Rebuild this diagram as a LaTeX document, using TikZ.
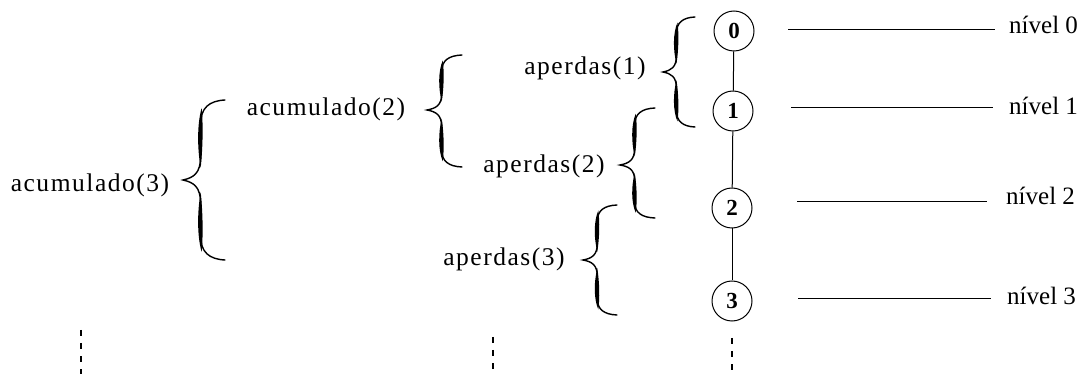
\documentclass[tikz,border=0pt]{standalone}
\usepackage{fontspec}
\setmainfont{Liberation Serif}
\newfontfamily\lblfont[LetterSpace=6]{Liberation Serif}
\tikzset{
  lvl/.style={circle,draw,line width=1pt,minimum size=40pt,inner sep=0pt,font=\fontsize{23}{26}\selectfont\bfseries},
  lbl/.style={inner sep=0pt,font=\lblfont\fontsize{25.5}{30}\selectfont},
  nivel/.style={inner sep=0pt,anchor=base west,font=\fontsize{25}{30}\selectfont},
  link/.style={line width=1pt},
  levelline/.style={line width=1pt},
  more/.style={line width=1.3pt,dash pattern=on 6pt off 7pt},
  bracethin/.style={line width=1.4pt,line cap=round}
}
\newcommand{\curlybrace}[5]{% tipx tipy endx topy boty
  \pgfmathsetmacro\bw{#3-#1}
  \pgfmathsetmacro\bs{#1+0.42*\bw}
  \pgfmathsetmacro\bht{#2-#4}
  \pgfmathsetmacro\bhb{#5-#2}
  \draw[bracethin] (#3,#4) .. controls (\bs+0.2*\bw,#4+0.01*\bht) and (\bs,#4+0.1*\bht) .. (\bs,#4+0.3*\bht)
    -- (\bs,#2-0.3*\bht) .. controls (\bs,#2-0.08*\bht) and (#1+0.25*\bw,#2-0.03*\bht) .. (#1,#2)
    .. controls (#1+0.25*\bw,#2+0.03*\bhb) and (\bs,#2+0.08*\bhb) .. (\bs,#2+0.3*\bhb)
    -- (\bs,#5-0.3*\bhb) .. controls (\bs,#5-0.1*\bhb) and (\bs+0.2*\bw,#5-0.01*\bhb) .. (#3,#5);
  \fill (\bs+1,#4+0.1*\bht) .. controls (\bs-3.6,#4+0.3*\bht) and (\bs-3.4,#2-0.4*\bht) .. (\bs,#2-0.15*\bht)
    .. controls (\bs+2.2,#2-0.4*\bht) and (\bs+2.6,#4+0.3*\bht) .. (\bs+1,#4+0.1*\bht) -- cycle;
  \fill (\bs,#2+0.15*\bhb) .. controls (\bs-3.4,#2+0.4*\bhb) and (\bs-3.6,#5-0.3*\bhb) .. (\bs+1,#5-0.1*\bhb)
    .. controls (\bs+2.6,#5-0.3*\bhb) and (\bs+2.2,#2+0.4*\bhb) .. (\bs,#2+0.15*\bhb) -- cycle;
}
\begin{document}
\begin{tikzpicture}[x=1pt,y=-1pt]
\useasboundingbox (0,0) rectangle (1088,374);
% level nodes
\node[lvl] (n0) at (734,31) {0};
\node[lvl] (n1) at (733,111) {1};
\node[lvl] (n2) at (732,208) {2};
\node[lvl] (n3) at (732,301) {3};
\draw[link] (n0) -- (n1);
\draw[link] (n1) -- (n2);
\draw[link] (n2) -- (n3);
% level lines and labels
\coordinate (a0) at (788,30);  \coordinate (b0) at (995,30);
\coordinate (a1) at (791,108); \coordinate (b1) at (993,108);
\coordinate (a2) at (797,202); \coordinate (b2) at (987,202);
\coordinate (a3) at (798,299); \coordinate (b3) at (991,299);
\draw[levelline] (a0) -- (b0);
\draw[levelline] (a1) -- (b1);
\draw[levelline] (a2) -- (b2);
\draw[levelline] (a3) -- (b3);
\node[nivel] (t0) at (1009,34) {nível 0};
\node[nivel] (t1) at (1009,115) {nível 1};
\node[nivel] (t2) at (1006,205) {nível 2};
\node[nivel] (t3) at (1007,305) {nível 3};
% labels
\node[lbl] (p1) at (585,68) {aperdas(1)};
\node[lbl] (p2) at (544,166) {aperdas(2)};
\node[lbl] (p3) at (504,259) {aperdas(3)};
\node[lbl] (c2) at (326,109) {acumulado(2)};
\node[lbl] (c3) at (90,185) {acumulado(3)};
% braces
\curlybrace{663}{72}{695}{17}{127}
\curlybrace{427}{110}{462}{55}{167}
\curlybrace{620}{165}{655}{108}{218}
\curlybrace{583}{260}{617}{205}{315}
\curlybrace{183}{180}{225}{100}{260}
% continuation dashes
\coordinate (d1a) at (81,330);  \coordinate (d1b) at (81,374);
\coordinate (d2a) at (493,337); \coordinate (d2b) at (493,374);
\coordinate (d3a) at (732,338); \coordinate (d3b) at (732,374);
\draw[more] (d1a) -- (d1b);
\draw[more] (d2a) -- (d2b);
\draw[more] (d3a) -- (d3b);
\end{tikzpicture}
\end{document}
